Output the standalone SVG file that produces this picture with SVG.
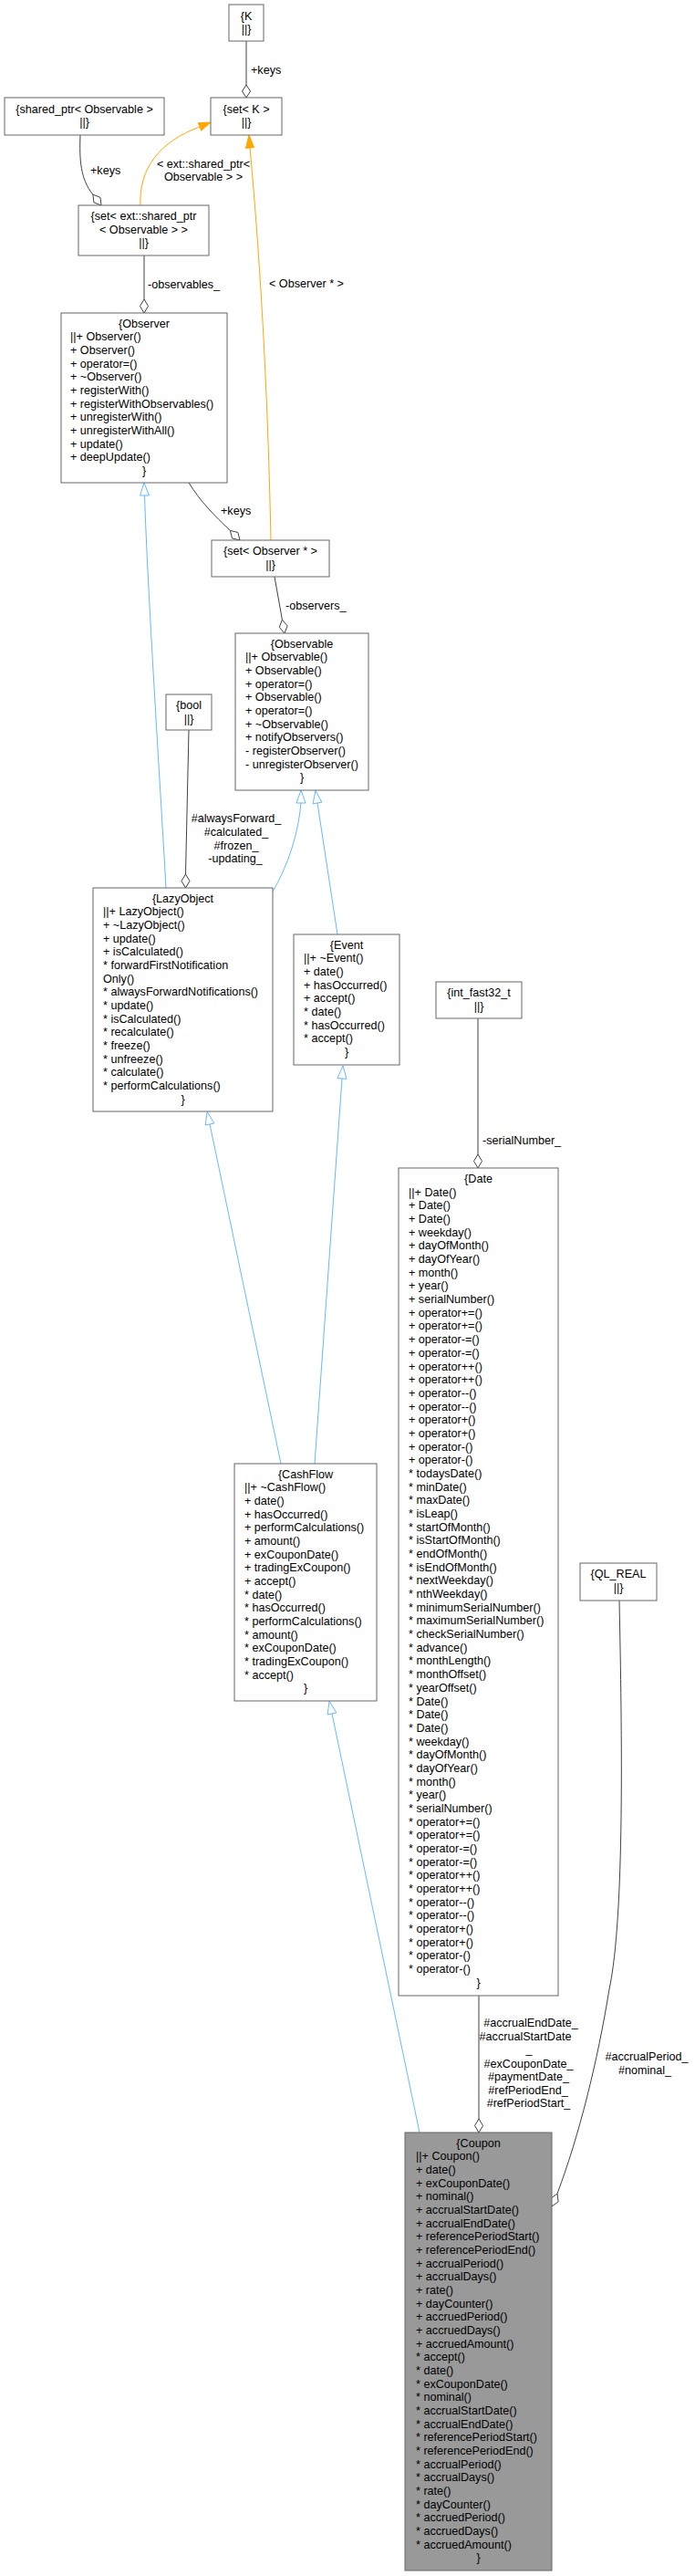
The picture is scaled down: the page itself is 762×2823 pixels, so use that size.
<svg xmlns="http://www.w3.org/2000/svg" width="762" height="2823" viewBox="0 0 762 2823">
<style>
.bg{fill:#fff}
.box{fill:#fff;stroke:#666;stroke-width:1}
.main{fill:#999;stroke:#666;stroke-width:1}
.t{font-family:"Liberation Sans",Arial,sans-serif;font-size:12.6px;fill:#000}
.c{text-anchor:middle}
.agg{stroke:#404040;fill:none;stroke-width:1}
.dia{fill:#fff;stroke:#404040;stroke-width:1}
.inh{stroke:#63b8ff;fill:none;stroke-width:1}
.tri{fill:#fff;stroke:#63b8ff;stroke-width:1}
.tmpl{stroke:#ffa500;fill:none;stroke-width:1}
.arr{fill:#ffa500;stroke:#ffa500;stroke-width:1}
</style>
<rect class="bg" x="0" y="0" width="762" height="2823"/>

<g id="connectors">
  <!-- K -> set<K> -->
  <path class="agg" d="M270,45 L270,93"/>
  <polygon class="dia" points="270,107 265.5,100 270,93 274.5,100"/>
  <text class="t" x="275" y="80.5">+keys</text>

  <!-- shared_ptr -> set<ext::shared_ptr> -->
  <path class="agg" d="M88,148 C87,175 88,196 101.9,213.2"/>
  <polygon class="dia" points="111,225 102.9,221.8 101.9,213.2 110,216.4"/>
  <text class="t" x="99" y="190.5">+keys</text>

  <!-- set<ext::shared_ptr> -> set<K> template -->
  <path class="tmpl" d="M154,225 C152,185 175,155 219,139"/>
  <polygon class="arr" points="231,134 220.7,143.2 217.3,134.8"/>
  <text class="t c" x="223" y="183.5">&lt; ext::shared_ptr&lt;</text>
  <text class="t c" x="223" y="198">Observable &gt; &gt;</text>

  <!-- set<Observer*> -> set<K> template -->
  <path class="tmpl" d="M297,592 C293,400 283,260 274,162"/>
  <polygon class="arr" points="273,148 278.5,161.5 269.5,162.5"/>
  <text class="t" x="295" y="314.5">&lt; Observer * &gt;</text>

  <!-- set<ext::shared_ptr> -> Observer -->
  <path class="agg" d="M158,280 L158,328"/>
  <polygon class="dia" points="158,343 153.5,335.5 158,328 162.5,335.5"/>
  <text class="t" x="162" y="315.5">-observables_</text>

  <!-- Observer -> set<Observer*> -->
  <path class="agg" d="M207,529 C220,550 235,565 252.4,581.4"/>
  <polygon class="dia" points="263,592 254.5,589.9 252.4,581.4 260.9,583.5"/>
  <text class="t" x="242" y="563.5">+keys</text>

  <!-- set<Observer*> -> Observable -->
  <path class="agg" d="M301,632 L309.4,679.2"/>
  <polygon class="dia" points="312,694 306.3,687.4 309.4,679.2 315.1,685.8"/>
  <text class="t" x="313" y="667.5">-observers_</text>

  <!-- bool -> LazyObject -->
  <path class="agg" d="M207,800 L203.5,958"/>
  <polygon class="dia" points="203.5,973 199,965.5 203.5,958 208,965.5"/>
  <text class="t c" x="259" y="901">#alwaysForward_</text>
  <text class="t c" x="259" y="916">#calculated_</text>
  <text class="t c" x="259" y="931">#frozen_</text>
  <text class="t c" x="258" y="945">-updating_</text>

  <!-- LazyObject -> Observer -->
  <path class="inh" d="M182,973 C175,850 162,650 158.5,543"/>
  <polygon class="tri" points="158,529 153.5,543 163.5,543"/>

  <!-- LazyObject -> Observable -->
  <path class="inh" d="M299,977 C315,950 327,915 330,880"/>
  <polygon class="tri" points="330,866 325,880 335,880"/>

  <!-- Event -> Observable -->
  <path class="inh" d="M370,1024 L348,880"/>
  <polygon class="tri" points="345.9,866.2 352.9,879.2 343.1,880.8"/>

  <!-- CashFlow -> LazyObject -->
  <path class="inh" d="M308,1604 L230,1232"/>
  <polygon class="tri" points="227.1,1218.3 234.9,1231 225.1,1233"/>

  <!-- CashFlow -> Event -->
  <path class="inh" d="M345,1604 L375,1182"/>
  <polygon class="tri" points="376,1168 380,1182.4 370,1181.6"/>

  <!-- Coupon -> CashFlow -->
  <path class="inh" d="M460,2337 L364,1878"/>
  <polygon class="tri" points="361.1,1864.3 368.9,1877 359.1,1879"/>

  <!-- int_fast32_t -> Date -->
  <path class="agg" d="M524,1116 L524,1265"/>
  <polygon class="dia" points="524,1280 519.5,1272.5 524,1265 528.5,1272.5"/>
  <text class="t" x="529" y="1253.5">-serialNumber_</text>

  <!-- Date -> Coupon -->
  <path class="agg" d="M525,2187 L525,2322"/>
  <polygon class="dia" points="525,2337 520.5,2329.5 525,2322 529.5,2329.5"/>
  <text class="t c" x="582" y="2221">#accrualEndDate_</text>
  <text class="t c" x="576" y="2236">#accrualStartDate</text>
  <text class="t c" x="580" y="2250">_</text>
  <text class="t c" x="579.5" y="2265.5">#exCouponDate_</text>
  <text class="t c" x="579.5" y="2280">#paymentDate_</text>
  <text class="t c" x="579" y="2295">#refPeriodEnd_</text>
  <text class="t c" x="579.5" y="2309">#refPeriodStart_</text>

  <!-- QL_REAL -> Coupon -->
  <path class="agg" d="M679,1754 C682,1900 685,2100 668,2180 C655,2260 635,2340 611,2404"/>
  <polygon class="dia" points="605,2418 603.9,2409.2 611,2404 612.1,2412.8"/>
  <text class="t c" x="709" y="2257.5">#accrualPeriod_</text>
  <text class="t c" x="707" y="2272.5">#nominal_</text>
</g>

<g id="node-K">
  <rect class="box" x="251" y="5" width="38" height="40"/>
  <text class="t c" x="270" y="21.5">{K</text>
  <text class="t c" x="270" y="36">||}</text>
</g>

<g id="node-setK">
  <rect class="box" x="231" y="107" width="78" height="41"/>
  <text class="t c" x="270" y="123.5">{set&lt; K &gt;</text>
  <text class="t c" x="270" y="138">||}</text>
</g>

<g id="node-shared_ptr">
  <rect class="box" x="5" y="107" width="175" height="41"/>
  <text class="t c" x="92.5" y="123.5">{shared_ptr&lt; Observable &gt;</text>
  <text class="t c" x="92.5" y="138">||}</text>
</g>

<g id="node-setExtSharedPtr">
  <rect class="box" x="86" y="225" width="143" height="55"/>
  <text class="t c" x="157.5" y="241">{set&lt; ext::shared_ptr</text>
  <text class="t c" x="157.5" y="255.7">&lt; Observable &gt; &gt;</text>
  <text class="t c" x="157.5" y="270.3">||}</text>
</g>

<g id="node-Observer">
  <rect class="box" x="67" y="343" width="182" height="186"/>
  <text class="t c" x="158" y="358.5">{Observer</text>
  <text class="t" x="77" y="373.17"><tspan x="77" dy="0">||+ Observer()</tspan><tspan x="77" dy="14.67">+ Observer()</tspan><tspan x="77" dy="14.67">+ operator=()</tspan><tspan x="77" dy="14.67">+ ~Observer()</tspan><tspan x="77" dy="14.67">+ registerWith()</tspan><tspan x="77" dy="14.67">+ registerWithObservables()</tspan><tspan x="77" dy="14.67">+ unregisterWith()</tspan><tspan x="77" dy="14.67">+ unregisterWithAll()</tspan><tspan x="77" dy="14.67">+ update()</tspan><tspan x="77" dy="14.67">+ deepUpdate()</tspan></text>
  <text class="t c" x="158" y="519.9">}</text>
</g>

<g id="node-setObserverPtr">
  <rect class="box" x="232" y="592" width="129" height="40"/>
  <text class="t c" x="296.5" y="608">{set&lt; Observer * &gt;</text>
  <text class="t c" x="296.5" y="622.5">||}</text>
</g>

<g id="node-Observable">
  <rect class="box" x="258" y="694" width="146" height="172"/>
  <text class="t c" x="331" y="709.5">{Observable</text>
  <text class="t" x="269" y="724.17"><tspan x="269" dy="0">||+ Observable()</tspan><tspan x="269" dy="14.67">+ Observable()</tspan><tspan x="269" dy="14.67">+ operator=()</tspan><tspan x="269" dy="14.67">+ Observable()</tspan><tspan x="269" dy="14.67">+ operator=()</tspan><tspan x="269" dy="14.67">+ ~Observable()</tspan><tspan x="269" dy="14.67">+ notifyObservers()</tspan><tspan x="269" dy="14.67">- registerObserver()</tspan><tspan x="269" dy="14.67">- unregisterObserver()</tspan></text>
  <text class="t c" x="331" y="856.2">}</text>
</g>

<g id="node-bool">
  <rect class="box" x="182" y="761" width="50" height="39"/>
  <text class="t c" x="207" y="777">{bool</text>
  <text class="t c" x="207" y="791.5">||}</text>
</g>

<g id="node-LazyObject">
  <rect class="box" x="102" y="973" width="197" height="245"/>
  <text class="t c" x="200.5" y="988.5">{LazyObject</text>
  <text class="t" x="113" y="1003.17"><tspan x="113" dy="0">||+ LazyObject()</tspan><tspan x="113" dy="14.67">+ ~LazyObject()</tspan><tspan x="113" dy="14.67">+ update()</tspan><tspan x="113" dy="14.67">+ isCalculated()</tspan><tspan x="113" dy="14.67">* forwardFirstNotification</tspan><tspan x="113" dy="14.67">Only()</tspan><tspan x="113" dy="14.67">* alwaysForwardNotifications()</tspan><tspan x="113" dy="14.67">* update()</tspan><tspan x="113" dy="14.67">* isCalculated()</tspan><tspan x="113" dy="14.67">* recalculate()</tspan><tspan x="113" dy="14.67">* freeze()</tspan><tspan x="113" dy="14.67">* unfreeze()</tspan><tspan x="113" dy="14.67">* calculate()</tspan><tspan x="113" dy="14.67">* performCalculations()</tspan></text>
  <text class="t c" x="200.5" y="1208.6">}</text>
</g>

<g id="node-Event">
  <rect class="box" x="322" y="1024" width="116" height="143"/>
  <text class="t c" x="380" y="1039.5">{Event</text>
  <text class="t" x="333" y="1054.17"><tspan x="333" dy="0">||+ ~Event()</tspan><tspan x="333" dy="14.67">+ date()</tspan><tspan x="333" dy="14.67">+ hasOccurred()</tspan><tspan x="333" dy="14.67">+ accept()</tspan><tspan x="333" dy="14.67">* date()</tspan><tspan x="333" dy="14.67">* hasOccurred()</tspan><tspan x="333" dy="14.67">* accept()</tspan></text>
  <text class="t c" x="380" y="1156.9">}</text>
</g>

<g id="node-int_fast32_t">
  <rect class="box" x="478" y="1076" width="94" height="40"/>
  <text class="t c" x="525" y="1092">{int_fast32_t</text>
  <text class="t c" x="525" y="1106.5">||}</text>
</g>

<g id="node-Date">
  <rect class="box" x="437" y="1280" width="175" height="907"/>
  <text class="t c" x="524.5" y="1296">{Date</text>
  <text class="t" x="448" y="1310.68"><tspan x="448" dy="0">||+ Date()</tspan><tspan x="448" dy="14.68">+ Date()</tspan><tspan x="448" dy="14.68">+ Date()</tspan><tspan x="448" dy="14.68">+ weekday()</tspan><tspan x="448" dy="14.68">+ dayOfMonth()</tspan><tspan x="448" dy="14.68">+ dayOfYear()</tspan><tspan x="448" dy="14.68">+ month()</tspan><tspan x="448" dy="14.68">+ year()</tspan><tspan x="448" dy="14.68">+ serialNumber()</tspan><tspan x="448" dy="14.68">+ operator+=()</tspan><tspan x="448" dy="14.68">+ operator+=()</tspan><tspan x="448" dy="14.68">+ operator-=()</tspan><tspan x="448" dy="14.68">+ operator-=()</tspan><tspan x="448" dy="14.68">+ operator++()</tspan><tspan x="448" dy="14.68">+ operator++()</tspan><tspan x="448" dy="14.68">+ operator--()</tspan><tspan x="448" dy="14.68">+ operator--()</tspan><tspan x="448" dy="14.68">+ operator+()</tspan><tspan x="448" dy="14.68">+ operator+()</tspan><tspan x="448" dy="14.68">+ operator-()</tspan><tspan x="448" dy="14.68">+ operator-()</tspan><tspan x="448" dy="14.68">* todaysDate()</tspan><tspan x="448" dy="14.68">* minDate()</tspan><tspan x="448" dy="14.68">* maxDate()</tspan><tspan x="448" dy="14.68">* isLeap()</tspan><tspan x="448" dy="14.68">* startOfMonth()</tspan><tspan x="448" dy="14.68">* isStartOfMonth()</tspan><tspan x="448" dy="14.68">* endOfMonth()</tspan><tspan x="448" dy="14.68">* isEndOfMonth()</tspan><tspan x="448" dy="14.68">* nextWeekday()</tspan><tspan x="448" dy="14.68">* nthWeekday()</tspan><tspan x="448" dy="14.68">* minimumSerialNumber()</tspan><tspan x="448" dy="14.68">* maximumSerialNumber()</tspan><tspan x="448" dy="14.68">* checkSerialNumber()</tspan><tspan x="448" dy="14.68">* advance()</tspan><tspan x="448" dy="14.68">* monthLength()</tspan><tspan x="448" dy="14.68">* monthOffset()</tspan><tspan x="448" dy="14.68">* yearOffset()</tspan><tspan x="448" dy="14.68">* Date()</tspan><tspan x="448" dy="14.68">* Date()</tspan><tspan x="448" dy="14.68">* Date()</tspan><tspan x="448" dy="14.68">* weekday()</tspan><tspan x="448" dy="14.68">* dayOfMonth()</tspan><tspan x="448" dy="14.68">* dayOfYear()</tspan><tspan x="448" dy="14.68">* month()</tspan><tspan x="448" dy="14.68">* year()</tspan><tspan x="448" dy="14.68">* serialNumber()</tspan><tspan x="448" dy="14.68">* operator+=()</tspan><tspan x="448" dy="14.68">* operator+=()</tspan><tspan x="448" dy="14.68">* operator-=()</tspan><tspan x="448" dy="14.68">* operator-=()</tspan><tspan x="448" dy="14.68">* operator++()</tspan><tspan x="448" dy="14.68">* operator++()</tspan><tspan x="448" dy="14.68">* operator--()</tspan><tspan x="448" dy="14.68">* operator--()</tspan><tspan x="448" dy="14.68">* operator+()</tspan><tspan x="448" dy="14.68">* operator+()</tspan><tspan x="448" dy="14.68">* operator-()</tspan><tspan x="448" dy="14.68">* operator-()</tspan></text>
  <text class="t c" x="524.5" y="2176.8">}</text>
</g>

<g id="node-CashFlow">
  <rect class="box" x="257" y="1604" width="156" height="260"/>
  <text class="t c" x="335" y="1619.5">{CashFlow</text>
  <text class="t" x="268" y="1634.17"><tspan x="268" dy="0">||+ ~CashFlow()</tspan><tspan x="268" dy="14.67">+ date()</tspan><tspan x="268" dy="14.67">+ hasOccurred()</tspan><tspan x="268" dy="14.67">+ performCalculations()</tspan><tspan x="268" dy="14.67">+ amount()</tspan><tspan x="268" dy="14.67">+ exCouponDate()</tspan><tspan x="268" dy="14.67">+ tradingExCoupon()</tspan><tspan x="268" dy="14.67">+ accept()</tspan><tspan x="268" dy="14.67">* date()</tspan><tspan x="268" dy="14.67">* hasOccurred()</tspan><tspan x="268" dy="14.67">* performCalculations()</tspan><tspan x="268" dy="14.67">* amount()</tspan><tspan x="268" dy="14.67">* exCouponDate()</tspan><tspan x="268" dy="14.67">* tradingExCoupon()</tspan><tspan x="268" dy="14.67">* accept()</tspan></text>
  <text class="t c" x="335" y="1854.2">}</text>
</g>

<g id="node-QL_REAL">
  <rect class="box" x="636" y="1713" width="84" height="41"/>
  <text class="t c" x="678" y="1729">{QL_REAL</text>
  <text class="t c" x="678" y="1743.5">||}</text>
</g>

<g id="node-Coupon">
  <rect class="main" x="444" y="2337" width="161" height="480"/>
  <text class="t c" x="524.5" y="2352.5">{Coupon</text>
  <text class="t" x="456" y="2367.17"><tspan x="456" dy="0">||+ Coupon()</tspan><tspan x="456" dy="14.67">+ date()</tspan><tspan x="456" dy="14.67">+ exCouponDate()</tspan><tspan x="456" dy="14.67">+ nominal()</tspan><tspan x="456" dy="14.67">+ accrualStartDate()</tspan><tspan x="456" dy="14.67">+ accrualEndDate()</tspan><tspan x="456" dy="14.67">+ referencePeriodStart()</tspan><tspan x="456" dy="14.67">+ referencePeriodEnd()</tspan><tspan x="456" dy="14.67">+ accrualPeriod()</tspan><tspan x="456" dy="14.67">+ accrualDays()</tspan><tspan x="456" dy="14.67">+ rate()</tspan><tspan x="456" dy="14.67">+ dayCounter()</tspan><tspan x="456" dy="14.67">+ accruedPeriod()</tspan><tspan x="456" dy="14.67">+ accruedDays()</tspan><tspan x="456" dy="14.67">+ accruedAmount()</tspan><tspan x="456" dy="14.67">* accept()</tspan><tspan x="456" dy="14.67">* date()</tspan><tspan x="456" dy="14.67">* exCouponDate()</tspan><tspan x="456" dy="14.67">* nominal()</tspan><tspan x="456" dy="14.67">* accrualStartDate()</tspan><tspan x="456" dy="14.67">* accrualEndDate()</tspan><tspan x="456" dy="14.67">* referencePeriodStart()</tspan><tspan x="456" dy="14.67">* referencePeriodEnd()</tspan><tspan x="456" dy="14.67">* accrualPeriod()</tspan><tspan x="456" dy="14.67">* accrualDays()</tspan><tspan x="456" dy="14.67">* rate()</tspan><tspan x="456" dy="14.67">* dayCounter()</tspan><tspan x="456" dy="14.67">* accruedPeriod()</tspan><tspan x="456" dy="14.67">* accruedDays()</tspan><tspan x="456" dy="14.67">* accruedAmount()</tspan></text>
  <text class="t c" x="524.5" y="2807.3">}</text>
</g>
</svg>
